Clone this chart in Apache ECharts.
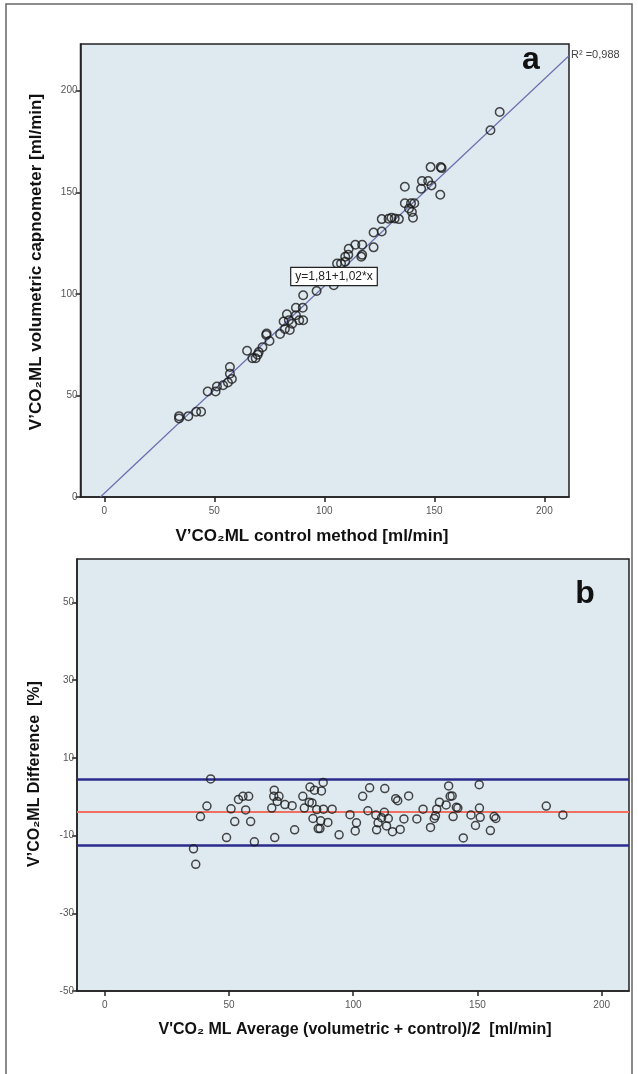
<!DOCTYPE html>
<html>
<head>
    <meta charset="utf-8">
    <title>V'CO2ML regression and Bland-Altman</title>
    <style>
        html, body { margin: 0; padding: 0; background: #fff; }
        #chart { width: 638px; height: 1074px; }
    </style>
</head>
<body>
    <div id="chart"></div>
    <script src="https://cdn.jsdelivr.net/npm/echarts@6/dist/echarts.min.js"></script>
    <script>
        // panel a: control method (x) vs volumetric capnometer (y), ml/min
        var controlX = [34, 34, 38.2, 41.8, 44, 47, 50.6, 51.2, 54, 56.2, 57.1, 57.1, 58, 64.9, 67.3, 68.8, 69.7, 70.2,
            71.9, 73.8, 73.6, 75.1, 79.9, 81.5, 82.1, 83, 83.9, 84.3, 85.4, 87.1, 87.1, 88.6, 90.4, 90.2, 90.4, 96.5,
            104.3, 105.8, 107.6, 109.5, 109.5, 110.9, 111.1, 114.1, 117.2, 117.2, 116.8, 122.4, 122.4, 126.1, 126.1,
            129.2, 130.5, 132, 133.9, 136.6, 136.6, 138.5, 139.4, 139.8, 140.3, 140.9, 144, 144.4, 147.2, 148.3, 148.7,
            152.9, 153.3, 152.7, 175.5, 179.7];
        var volumetricY = [39.8, 38.7, 39.8, 42, 42, 51.9, 51.9, 54.4, 55, 56.4, 64, 60.7, 58.1, 72, 68.3, 68.3, 70, 71.4,
            73.7, 80.5, 79.8, 76.8, 80.2, 86.4, 82.7, 90, 87, 82.2, 85.3, 93.2, 89.5, 87, 87, 93.2, 99.3, 101.4,
            104.2, 114.9, 114.9, 115.8, 118.3, 119.2, 122.2, 124.2, 124.2, 119.2, 118.3, 130.2, 122.9, 130.7, 136.8,
            137, 137.5, 137.1, 136.8, 152.7, 144.6, 142, 144.6, 140.3, 137.5, 144.6, 151.7, 155.6, 155.6, 162.4, 153.4,
            162.4, 161.9, 148.8, 180.5, 189.5];
        var fitIntercept = 1.81;
        var fitSlope = 1.02;
        var rSquared = '0,988';

        // panel b: average (x) vs difference % (y)
        var averageX = [35.7, 36.6, 38.5, 41.1, 42.6, 49, 50.8, 52.3, 53.8, 55.6, 56.7, 57.9, 58.7, 60.2, 67.2, 68, 68.2,
            68.4, 69.4, 70.1, 72.5, 75.4, 76.4, 79.7, 80.3, 82.3, 82.6, 83.4, 83.8, 84.4, 85.3, 85.9, 86.6, 86.9, 87.2,
            87.9, 88, 89.8, 91.5, 94.3, 98.7, 100.8, 101.3, 103.8, 105.9, 106.6, 109.1, 109.4, 110, 111.4, 112.5, 112.7,
            113.4, 114.1, 115.8, 117.1, 117.9, 118.9, 120.4, 122.3, 125.6, 128.1, 131.1, 132.6, 133.1, 133.6, 134.7,
            137.4, 138.4, 139, 139.8, 140.2, 141.5, 142.1, 144.3, 147.4, 149.2, 150.7, 150.8, 151.1, 155.2, 156.7,
            157.4, 177.7, 184.4];
        var differencePct = [-13.4, -17.4, -5.1, -2.4, 4.6, -10.5, -3.1, -6.4, -0.7, 0.1, -3.4, 0.1, -6.4, -11.6, -2.9,
            0.1, 1.7, -10.5, -1.2, 0.1, -2, -2.3, -8.5, 0.1, -2.9, -1.4, 2.5, -1.6, -5.6, 1.7, -3.3, -8.2, -8.2, -6.2,
            1.5, 3.7, -3.2, -6.6, -3.2, -9.8, -4.6, -8.8, -6.7, 0.1, -3.6, 2.3, -4.7, -8.5, -6.7, -5.4, -4, 2.1, -7.5,
            -5.6, -9, -0.5, -1, -8.4, -5.7, 0.2, -5.7, -3.2, -7.9, -5.6, -4.9, -3.2, -1.4, -2.1, 2.8, 0.1, 0.2, -5.1,
            -2.7, -2.9, -10.6, -4.7, -7.4, 3.1, -2.9, -5.3, -8.7, -5.1, -5.6, -2.4, -4.7];
        var meanDiff = -3.9;
        var upperLimit = 4.5;
        var lowerLimit = -12.5;

        var ticksA = [0, 50, 100, 150, 200];
        var ticksBx = [0, 50, 100, 150, 200];
        var ticksBy = [-50, -30, -10, 10, 30, 50];

        var narrow = "'Liberation Sans Narrow', 'Liberation Sans', Arial, sans-serif";
        var bold = "'Liberation Sans', Arial, sans-serif";

        function pairs(xs, ys) {
            return xs.map(function (x, i) { return [x, ys[i]]; });
        }

        // regression line, clipped at y = 0 and at the right edge
        var xStart = -fitIntercept / fitSlope;
        var xEnd = 211.2;
        var fitLine = [[xStart, 0], [xEnd, fitIntercept + fitSlope * xEnd]];

        function valueAxis(grid, min, max, ticks) {
            return {
                type: 'value', gridIndex: grid, min: min, max: max,
                splitLine: { show: false },
                axisLine: { show: true, onZero: false, lineStyle: { color: '#222', width: 1.5 } },
                axisTick: { show: true, customValues: ticks, length: 5, lineStyle: { color: '#222', width: 1.5 } },
                axisLabel: { customValues: ticks, color: '#555', fontSize: 10, fontFamily: narrow, margin: 3 }
            };
        }

        var circle = {
            type: 'scatter', symbol: 'circle', symbolSize: 8.5,
            itemStyle: { color: 'transparent', borderColor: '#1a1a1a', borderWidth: 1.5 },
            silent: true, z: 5
        };

        var chart = echarts.init(document.getElementById('chart'));
        var xa = valueAxis(0, -10.8, 211.2, ticksA);
        xa.axisLabel.margin = 9;
        var xb = valueAxis(1, -11.2, 211, ticksBx);
        xb.axisLabel.margin = 9;

        chart.setOption({
            animation: false,
            grid: [
                { left: 80.5, top: 44, width: 488.5, height: 453, show: true, backgroundColor: '#dfe9f0',
                  borderColor: '#222', borderWidth: 1.5 },
                { left: 77, top: 559, width: 552, height: 432, show: true, backgroundColor: '#dfe9f0',
                  borderColor: '#222', borderWidth: 1.5 }
            ],
            xAxis: [xa, xb],
            yAxis: [valueAxis(0, 0, 223, ticksA), valueAxis(1, -50, 61.2, ticksBy)],
            series: [
                {
                    type: 'line', xAxisIndex: 0, yAxisIndex: 0, data: fitLine, symbol: 'none',
                    lineStyle: { color: '#6a6fae', width: 1.2 }, silent: true, z: 3
                },
                Object.assign({}, circle, { xAxisIndex: 0, yAxisIndex: 0, data: pairs(controlX, volumetricY) }),
                Object.assign({}, circle, {
                    xAxisIndex: 1, yAxisIndex: 1, data: pairs(averageX, differencePct), symbolSize: 8,
                    markLine: {
                        silent: true, symbol: 'none', label: { show: false },
                        data: [
                            { yAxis: upperLimit, lineStyle: { color: '#2b2b8e', width: 2.6, type: 'solid' } },
                            { yAxis: meanDiff, lineStyle: { color: '#ef6f60', width: 2, type: 'solid' } },
                            { yAxis: lowerLimit, lineStyle: { color: '#2b2b8e', width: 2.6, type: 'solid' } }
                        ]
                    }
                })
            ],
            graphic: [
                { type: 'rect', shape: { x: 6, y: 4, width: 626, height: 1080 }, silent: true,
                  style: { fill: 'none', stroke: '#666', lineWidth: 1.5 } },
                { type: 'text', x: 531, y: 76, silent: true,
                  style: { text: 'a', font: 'bold 32px ' + bold, fill: '#111', align: 'center', verticalAlign: 'bottom' } },
                { type: 'text', x: 585, y: 610, silent: true,
                  style: { text: 'b', font: 'bold 32px ' + bold, fill: '#111', align: 'center', verticalAlign: 'bottom' } },
                { type: 'text', x: 571, y: 55, silent: true,
                  style: { text: 'R\u00b2 =' + rSquared, font: '11px ' + narrow, fill: '#444', verticalAlign: 'middle' } },
                { type: 'text', x: 334, y: 276.5, silent: true, z: 10,
                  style: { text: 'y=1,81+1,02*x', font: '12px ' + narrow, fill: '#222', align: 'center',
                           verticalAlign: 'middle', backgroundColor: '#fff', borderColor: '#222', borderWidth: 1.2,
                           padding: [3, 4, 2, 4] } },
                { type: 'text', x: 312, y: 536, silent: true,
                  style: { text: 'V\u2019CO\u2082ML control method [ml/min]', font: 'bold 17px ' + bold, fill: '#111',
                           align: 'center', verticalAlign: 'middle' } },
                { type: 'text', x: 36, y: 262, rotation: Math.PI / 2, silent: true,
                  style: { text: 'V\u2019CO\u2082ML volumetric capnometer [ml/min]', font: 'bold 17px ' + bold,
                           fill: '#111', align: 'center', verticalAlign: 'middle' } },
                { type: 'text', x: 35, y: 774, rotation: Math.PI / 2, silent: true,
                  style: { text: 'V\u2019CO\u2082ML Difference  [%]', font: 'bold 16px ' + bold, fill: '#111',
                           align: 'center', verticalAlign: 'middle' } },
                { type: 'text', x: 355, y: 1030, silent: true,
                  style: { text: "V'CO\u2082 ML Average (volumetric + control)/2  [ml/min]", font: 'bold 16px ' + bold,
                           fill: '#111', align: 'center', verticalAlign: 'middle' } }
            ]
        });
    </script>
</body>
</html>
